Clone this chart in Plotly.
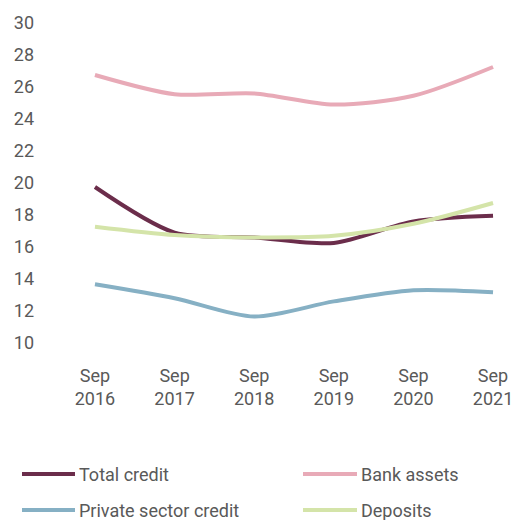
import plotly.graph_objects as go

categories = ["Sep<br>2016", "Sep<br>2017", "Sep<br>2018", "Sep<br>2019", "Sep<br>2020", "Sep<br>2021"]
series_names = ["Total credit", "Bank assets", "Private sector credit", "Deposits"]
total_credit = [19.75, 16.9, 16.6, 16.25, 17.6, 17.95]
bank_assets = [26.75, 25.55, 25.6, 24.9, 25.45, 27.25]
private_credit = [13.67, 12.8, 11.65, 12.6, 13.3, 13.17]
deposits = [17.27, 16.75, 16.6, 16.7, 17.45, 18.75]
y_ticks = [10, 12, 14, 16, 18, 20, 22, 24, 26, 28, 30]

colors = ["#6B2D4B", "#E8AAB7", "#86B0C4", "#D4E4A9"]
values = [total_credit, bank_assets, private_credit, deposits]
xs = list(range(len(categories)))

W, H = 511, 520
L, R, T, B = 87, 10, 23, 177
pw, ph = W - L - R, H - T - B

fig = go.Figure()
for name, vals, col in zip(series_names, values, colors):
    fig.add_trace(go.Scatter(x=xs, y=vals, mode="lines", name=name,
                             line=dict(color=col, width=4, shape="spline", smoothing=0.8),
                             showlegend=False, hoverinfo="skip"))

def px_x(p):
    return (p - L) / pw

def px_y(p):
    return (H - B - p) / ph

legend_pos = [(22, 75, 474), (303, 357, 474), (22, 75, 510), (303, 357, 510)]
for (x0, x1, yy), name, col in zip(legend_pos, series_names, colors):
    fig.add_shape(type="line", xref="paper", yref="paper",
                  x0=px_x(x0), x1=px_x(x1), y0=px_y(yy), y1=px_y(yy),
                  line=dict(color=col, width=4))
    fig.add_annotation(xref="paper", yref="paper", x=px_x(x1 + 2), y=px_y(yy),
                       text=name, showarrow=False, xanchor="left", yanchor="middle",
                       font=dict(family="Roboto", size=18, color="#595959"))

fig.update_layout(
    width=W, height=H,
    margin=dict(l=L, r=R, t=T, b=B, autoexpand=False),
    plot_bgcolor="white", paper_bgcolor="white",
    font=dict(family="Roboto", size=18, color="#595959"),
    xaxis=dict(range=[-0.1, 5.1], tickvals=xs, ticktext=categories,
               showgrid=False, zeroline=False, showline=False, automargin=False,
               ticks="outside", ticklen=16, tickcolor="rgba(0,0,0,0)",
               ticklabeloverflow="allow"),
    yaxis=dict(range=[10, 30], tickvals=y_ticks, showgrid=False, zeroline=False,
               showline=False, automargin=False, ticklabelstandoff=52),
)

fig.write_html("out.html", config={"displayModeBar": False},
               post_script="document.body.style.margin='0';document.body.style.overflow='hidden';")
